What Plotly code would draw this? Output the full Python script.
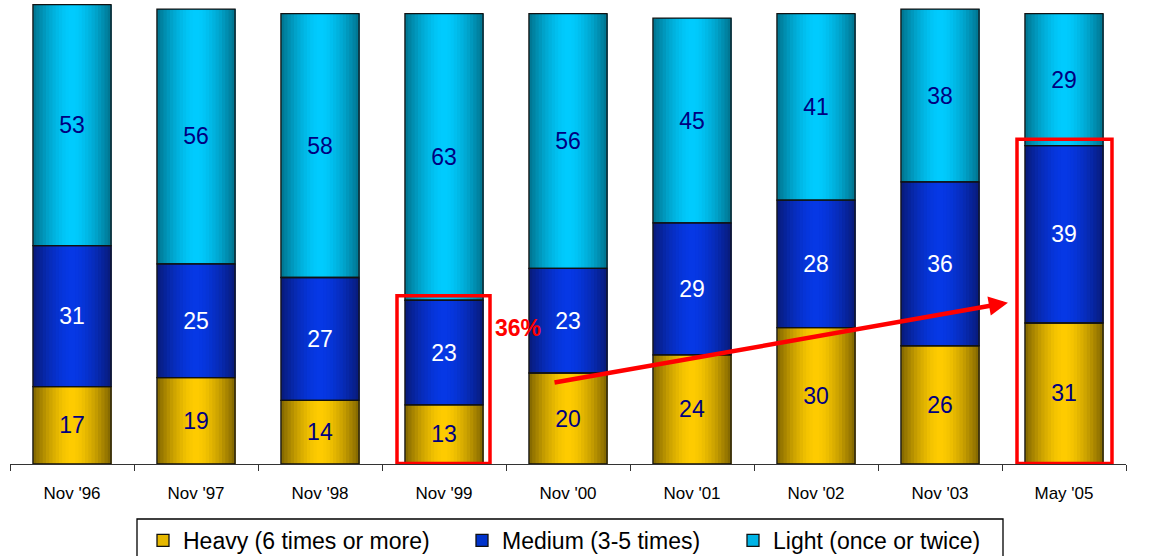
import plotly.graph_objects as go

categories = ["Nov '96", "Nov '97", "Nov '98", "Nov '99", "Nov '00", "Nov '01", "Nov '02", "Nov '03", "May '05"]
heavy = [17, 19, 14, 13, 20, 24, 30, 26, 31]
medium = [31, 25, 27, 23, 23, 29, 28, 36, 39]
light = [53, 56, 58, 63, 56, 45, 41, 38, 29]
series_names = ["Heavy (6 times or more)", "Medium (3-5 times)", "Light (once or twice)"]

W, H = 1168, 556
PX_L, PX_R, PX_T, PX_B = 10, 1126, 0, 464
YMAX = 102.0
BW = 0.63

def hex2rgb(h):
    h = h.lstrip('#')
    return tuple(int(h[i:i + 2], 16) for i in (0, 2, 4))

def mix(c1, c2, t):
    a, b = hex2rgb(c1), hex2rgb(c2)
    return "rgb(%d,%d,%d)" % tuple(round(a[i] + (b[i] - a[i]) * t) for i in range(3))

styles = [
    dict(edge="#7f6400", center="#ffcc00", solid="#e6b800", text="#000080"),
    dict(edge="#081a78", center="#0638e6", solid="#0033cc", text="#ffffff"),
    dict(edge="#00728c", center="#00ccff", solid="#00b4e6", text="#000080"),
]

values = [heavy, medium, light]
bases = []
run = [0] * len(categories)
for v in values:
    bases.append(list(run))
    run = [run[i] + v[i] for i in range(len(v))]

fig = go.Figure()
N = 24
for s, (v, b, st) in enumerate(zip(values, bases, styles)):
    for k in range(N):
        t0 = k / N
        tc = (k + 0.5) / N
        d = abs(tc - 0.5) / 0.5
        f = 1 - d ** 1.6
        col = mix(st["edge"], st["center"], f)
        fig.add_trace(go.Bar(
            x=categories, y=v, base=b,
            width=BW * (1 - t0), offset=-BW / 2 + BW * t0,
            marker=dict(color=col, line=dict(width=0)),
            showlegend=False, hoverinfo="skip",
        ))

for s, (v, b, st) in enumerate(zip(values, bases, styles)):
    fig.add_trace(go.Bar(
        x=categories, y=v, base=b, width=BW, offset=-BW / 2,
        marker=dict(color="rgba(0,0,0,0)", line=dict(color="#111111", width=1.3)),
        text=[str(x) for x in v], textposition="inside", insidetextanchor="middle",
        textangle=0,
        textfont=dict(family="Liberation Sans, Arial", size=23, color=st["text"]),
        showlegend=False, hoverinfo="skip",
    ))

def px2x(px):
    return (px - PX_L) / (PX_R - PX_L)

def py2y(py):
    return (PX_B - py) / (PX_B - PX_T)

legend_pos = [143, 462, 733]
for s, st in enumerate(styles):
    lg = "legend" if s == 0 else "legend%d" % (s + 1)
    fig.add_trace(go.Bar(
        x=[None], y=[None], name=series_names[s],
        marker=dict(color=st["solid"], line=dict(color="#111111", width=1.3)),
        showlegend=True, legend=lg,
    ))

legend_common = dict(
    orientation="h", yanchor="top", xanchor="left", y=py2y(519),
    font=dict(family="Liberation Sans, Arial", size=23, color="#000000"),
    bgcolor="rgba(0,0,0,0)", borderwidth=0,
)
fig.update_layout(
    legend=dict(x=px2x(legend_pos[0]), **legend_common),
    legend2=dict(x=px2x(legend_pos[1]), **legend_common),
    legend3=dict(x=px2x(legend_pos[2]), **legend_common),
)

shapes = [
    dict(type="rect", xref="paper", yref="paper",
         x0=px2x(137), x1=px2x(1003), y0=py2y(519), y1=py2y(575),
         line=dict(color="#000000", width=1.3), fillcolor="rgba(0,0,0,0)"),
    dict(type="rect", xref="x", yref="y", x0=3 - 0.379, x1=3 + 0.371, y0=0.1, y1=37.0,
         line=dict(color="#ff0000", width=3.5)),
    dict(type="rect", xref="x", yref="y", x0=8 - 0.379, x1=8 + 0.387, y0=0.1, y1=71.4,
         line=dict(color="#ff0000", width=3.5)),
]

annotations = [
    dict(x=3.597, y=30.0, xref="x", yref="y", text="<b>36%</b>", showarrow=False,
         font=dict(family="Liberation Sans, Arial", size=23, color="#ff0000")),
    dict(x=8.613, y=43.2, xref="x", yref="y", text="<b>70%</b>", showarrow=False,
         font=dict(family="Liberation Sans, Arial", size=23, color="#ff0000")),
    dict(x=7.548, y=35.46, xref="x", yref="y", ax=3.879, ay=17.84, axref="x", ayref="y",
         text="", showarrow=True, arrowhead=2, arrowsize=0.85, arrowwidth=4.5,
         arrowcolor="#ff0000", standoff=0, startstandoff=0),
]

fig.update_layout(
    width=W, height=H,
    margin=dict(l=PX_L, r=W - PX_R, t=PX_T, b=H - PX_B, autoexpand=False),
    barmode="overlay",
    plot_bgcolor="#ffffff", paper_bgcolor="#ffffff",
    shapes=shapes, annotations=annotations,
    xaxis=dict(
        type="category", categoryorder="array", categoryarray=categories,
        range=[-0.5, len(categories) - 0.5],
        showline=True, linecolor="#333333", linewidth=1.3,
        ticks="outside", tickson="boundaries", ticklen=6, tickcolor="#333333", tickwidth=1.3,
        ticklabelstandoff=13,
        tickfont=dict(family="Liberation Sans, Arial", size=17, color="#000000"),
        showgrid=False, zeroline=False, fixedrange=True, automargin=False,
    ),
    yaxis=dict(range=[0, YMAX], visible=False, showgrid=False, zeroline=False, fixedrange=True),
    showlegend=True,
)

fig.write_html("out.html")
